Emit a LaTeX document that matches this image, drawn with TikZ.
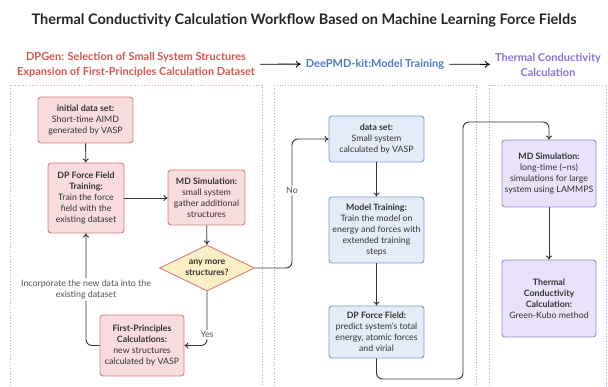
\documentclass[tikz,border=0pt]{standalone}
\usepackage{fontspec}
\setmainfont{Lato}
\usetikzlibrary{shapes.geometric,arrows.meta}
\definecolor{redfill}{HTML}{F9DCDD}
\definecolor{redline}{HTML}{D97B82}
\definecolor{bluefill}{HTML}{E4ECF8}
\definecolor{blueline}{HTML}{7E9BD2}
\definecolor{purplefill}{HTML}{E9E2FA}
\definecolor{purpleline}{HTML}{9C86D6}
\definecolor{decfill}{HTML}{FCEFC6}
\definecolor{redtext}{HTML}{D9534F}
\definecolor{bluetext}{HTML}{4A7BC8}
\definecolor{purpletext}{HTML}{8D6FD9}
\definecolor{inkgray}{HTML}{333333}
\begin{document}
\begin{tikzpicture}[x=1pt,y=-1pt,
    box/.style={rectangle,rounded corners=3pt,line width=0.9pt,align=center,inner sep=2pt,
      text=inkgray,font=\fontsize{8.8}{11}\selectfont},
    redbox/.style={box,draw=redline,fill=redfill},
    bluebox/.style={box,draw=blueline,fill=bluefill},
    purplebox/.style={box,draw=purpleline,fill=purplefill},
    decision/.style={diamond,aspect=2,draw=redline,fill=decfill,line width=0.9pt,align=center,
      inner sep=1pt,text=inkgray,font=\fontsize{8.8}{11}\selectfont\bfseries,
      minimum width=95pt,minimum height=46pt},
    flow/.style={draw=inkgray,line width=0.9pt,rounded corners=6pt,-{To[length=4pt,width=6pt]}},
    lbl/.style={fill=white,text=inkgray!85,inner sep=1.5pt,align=center,font=\fontsize{8.8}{11}\selectfont},
    panel/.style={dotted,line width=0.8pt},
    head/.style={align=center,inner sep=1pt,font=\fontsize{11}{15}\selectfont\bfseries},
    headarrow/.style={line width=0.9pt,shorten <=4pt,shorten >=4pt,-{To[length=5pt,width=7pt]}}]
  \clip (0,0) rectangle (608,387);
  \useasboundingbox (0,0) rectangle (608,387);
  \node [text=black!85] (title) at (304,20) {\fontsize{14.5}{17}\selectfont\bfseries Thermal Conductivity Calculation Workflow Based on Machine Learning Force Fields};
  \node [head,text=redtext] (hdpgen) at (136,64.5) {DPGen: Selection of Small System Structures\\Expansion of First-Principles Calculation Dataset};
  \node [head,text=bluetext] (hdeep) at (375,64) {DeePMD-kit:Model Training};
  \node [head,text=purpletext] (htc) at (548,64.5) {Thermal Conductivity\\Calculation};
  \draw [headarrow] (hdpgen) -- (hdeep);
  \draw [headarrow] (hdeep) -- (htc);
  \draw [panel,draw=redline!70] (10,85) rectangle (262,400);
  \draw [panel,draw=blueline!80] (274,85) rectangle (476,400);
  \draw [panel,draw=purpleline!75] (489,85) rectangle (606,400);
  \node [redbox,minimum width=95pt,minimum height=46pt] (init) at (85.5,120) {\textbf{initial data set:}\\Short-time AIMD\\generated by VASP};
  \node [redbox,minimum width=76pt,minimum height=70pt] (dpff) at (86,198) {\textbf{DP Force Field}\\\textbf{Training:}\\Train the force\\field with the\\existing dataset};
  \node [redbox,minimum width=77pt,minimum height=55pt] (mdsmall) at (206.5,197.5) {\textbf{MD Simulation:}\\small system\\gather additional\\structures};
  \node [decision] (dec) at (207,268) {any more\\structures?};
  \node [redbox,minimum width=84pt,minimum height=61pt] (fp) at (142,345.5) {\textbf{First-Principles}\\\textbf{Calculations:}\\new structures\\calculated by VASP};
  \node [bluebox,minimum width=95pt,minimum height=46pt] (dataset) at (376.5,139) {\textbf{data set:}\\Small system\\calculated by VASP};
  \node [bluebox,minimum width=95pt,minimum height=66pt] (train) at (376.5,230) {\textbf{Model Training:}\\Train the model on\\energy and forces with\\extended training\\steps};
  \node [bluebox,minimum width=95pt,minimum height=52pt] (dpfield) at (376.5,332) {\textbf{DP Force Field:}\\predict system's total\\energy, atomic forces\\and virial};
  \node [purplebox,minimum width=94pt,minimum height=67pt] (mdlarge) at (549,173.5) {\textbf{MD Simulation:}\\long-time (\textasciitilde ns)\\simulations for large\\system using LAMMPS};
  \node [purplebox,minimum width=94pt,minimum height=77pt] (tc) at (549,298.5) {\textbf{Thermal}\\\textbf{Conductivity}\\\textbf{Calculation:}\\Green-Kubo method};
  \draw [flow] (init) -- (dpff);
  \draw [flow] (dpff) -- (dpff.east -| mdsmall.west);
  \draw [flow] (mdsmall) -- (dec);
  \draw [flow] (dec.south) |- node [lbl,pos=0.4] {Yes} (fp.east);
  \draw [flow] (fp.west) -| node [lbl,pos=0.75] {Incorporate the new data into the\\existing dataset} (dpff.south);
  \draw [flow] (dec.east) -- (292,268) |- node [lbl,pos=0.3] {No} (dataset.west);
  \draw [flow] (dataset) -- (train);
  \draw [flow] (train) -- (dpfield);
  \draw [flow] (dpfield.south) |- (463,379) -- (463,122) -| (mdlarge.north);
  \draw [flow] (mdlarge) -- (tc);
\end{tikzpicture}
\end{document}
